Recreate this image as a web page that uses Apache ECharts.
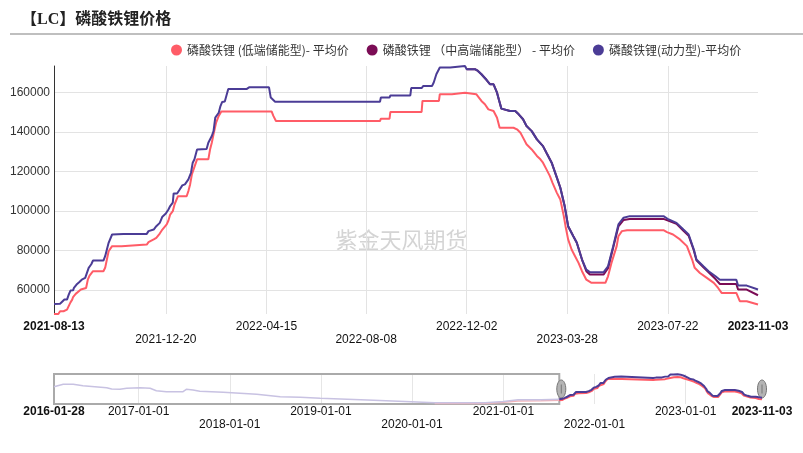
<!DOCTYPE html>
<html><head><meta charset="utf-8">
<script src="https://cdn.jsdelivr.net/npm/echarts@6/dist/echarts.min.js"></script>
<style>html,body{margin:0;padding:0;background:#fff}#c{width:803px;height:453px}</style>
</head><body><div id="c"></div>
<script>
const seriesNames = ['磷酸铁锂 (低端储能型)- 平均价', '磷酸铁锂 （中高端储能型） - 平均价', '磷酸铁锂(动力型)-平均价'];
const seriesColors = ['#ff5c67', '#7b0c55', '#4b3c96'];
const windowStart = '2021-08-13';
const windowEnd = '2023-11-03';
const fullStart = '2016-01-28';
const mainTickLabels = ['2021-08-13','2021-12-20','2022-04-15','2022-08-08','2022-12-02','2023-03-28','2023-07-22','2023-11-03'];
const mainGridDates = ['2021-12-20','2022-04-15','2022-08-08','2022-12-02','2023-03-28','2023-07-22'];
const sliderTickLabels = ['2016-01-28','2017-01-01','2018-01-01','2019-01-01','2020-01-01','2021-01-01','2022-01-01','2023-01-01','2023-11-03'];
const sliderGridDates = ['2017-01-01','2018-01-01','2019-01-01','2020-01-01','2021-01-01','2022-01-01','2023-01-01'];
const boldLabels = ['2021-08-13','2023-11-03','2016-01-28'];
const secondRowLabels = ['2021-12-20','2022-08-08','2023-03-28','2018-01-01','2020-01-01','2022-01-01'];

// 低端储能型
const redPrices = [['2021-08-13',47800],['2021-08-18',47800],['2021-08-20',49200],['2021-08-24',49200],['2021-08-25',50000],['2021-08-28',50000],['2021-09-01',53700],['2021-09-03',55100],['2021-09-04',56400],['2021-09-07',58000],['2021-09-09',58800],['2021-09-13',60200],['2021-09-15',61000],['2021-09-19',61000],['2021-09-21',65200],['2021-09-23',67300],['2021-09-25',67300],['2021-09-27',69500],['2021-10-09',69500],['2021-10-11',71200],['2021-10-13',75400],['2021-10-15',79600],['2021-10-19',82200],['2021-10-30',82200],['2021-11-01',83000],['2021-11-28',83000],['2021-11-30',84200],['2021-12-06',85600],['2021-12-09',86400],['2021-12-13',88600],['2021-12-16',90600],['2021-12-21',93200],['2021-12-23',95200],['2021-12-25',98200],['2021-12-28',99900],['2021-12-30',103300],['2022-01-03',107500],['2022-01-13',107500],['2022-01-15',110100],['2022-01-17',113500],['2022-01-19',118500],['2022-01-21',121100],['2022-01-25',126200],['2022-02-07',126200],['2022-02-09',131200],['2022-02-11',134600],['2022-02-13',138900],['2022-02-16',144800],['2022-02-19',148200],['2022-02-22',150500],['2022-04-21',150500],['2022-04-23',148200],['2022-04-26',145600],['2022-08-24',145600],['2022-08-25',146800],['2022-09-04',146800],['2022-09-05',150200],['2022-10-11',150200],['2022-10-12',155800],['2022-10-31',155800],['2022-11-01',159200],['2022-11-15',159200],['2022-11-17',160000],['2022-11-30',160000],['2022-12-02',159200],['2022-12-13',159200],['2022-12-15',158300],['2022-12-19',155800],['2022-12-23',154100],['2022-12-27',151500],['2023-01-02',150700],['2023-01-06',147300],['2023-01-09',142200],['2023-01-25',142200],['2023-01-29',141400],['2023-02-02',139700],['2023-02-05',137200],['2023-02-09',133800],['2023-02-15',131200],['2023-02-21',127900],['2023-02-25',126200],['2023-02-28',124500],['2023-03-04',121100],['2023-03-08',117700],['2023-03-11',114300],['2023-03-16',109200],['2023-03-20',105800],['2023-03-24',97400],['2023-03-26',92300],['2023-03-29',85600],['2023-04-02',80500],['2023-04-06',77100],['2023-04-10',73700],['2023-04-14',69500],['2023-04-19',65200],['2023-04-25',63600],['2023-05-11',63600],['2023-05-14',66900],['2023-05-18',73700],['2023-05-24',82200],['2023-05-26',87200],['2023-05-30',89800],['2023-06-05',90300],['2023-07-17',90300],['2023-07-21',89300],['2023-07-28',88100],['2023-08-05',85600],['2023-08-13',82200],['2023-08-19',75400],['2023-08-22',71200],['2023-08-28',68600],['2023-09-05',66100],['2023-09-13',63600],['2023-09-18',61000],['2023-09-22',58500],['2023-10-09',58500],['2023-10-11',57600],['2023-10-13',54300],['2023-10-21',54300],['2023-11-03',52600]];

// 中高端储能型
const magentaPrices = [['2022-12-02',171800],['2022-12-12',171800],['2022-12-15',171000],['2022-12-19',169300],['2022-12-25',166400],['2022-12-29',164200],['2023-01-02',164200],['2023-01-06',160000],['2023-01-08',156600],['2023-01-11',151900],['2023-01-21',150700],['2023-01-27',150700],['2023-01-31',149000],['2023-02-05',146500],['2023-02-09',143100],['2023-02-15',140500],['2023-02-21',136300],['2023-02-28',132900],['2023-03-04',129500],['2023-03-10',124500],['2023-03-16',116900],['2023-03-20',111800],['2023-03-25',102500],['2023-03-29',92300],['2023-04-04',87200],['2023-04-08',83900],['2023-04-14',75400],['2023-04-19',69500],['2023-04-23',67800],['2023-05-09',67800],['2023-05-14',71000],['2023-05-20',81500],['2023-05-26',92200],['2023-06-01',95500],['2023-06-08',96000],['2023-07-17',96000],['2023-07-23',95000],['2023-08-01',93500],['2023-08-09',90000],['2023-08-15',87500],['2023-08-21',80000],['2023-08-24',75000],['2023-09-01',71500],['2023-09-07',69000],['2023-09-15',65500],['2023-09-20',63000],['2023-10-09',63000],['2023-10-11',60200],['2023-10-21',60200],['2023-11-03',57300]];

// 动力型
const purplePrices = [['2021-08-13',52900],['2021-08-20',53000],['2021-08-22',54000],['2021-08-25',55100],['2021-08-28',55100],['2021-08-30',57600],['2021-09-01',59700],['2021-09-04',59800],['2021-09-05',61000],['2021-09-08',62700],['2021-09-11',63900],['2021-09-14',65200],['2021-09-18',66100],['2021-09-20',66900],['2021-09-22',71200],['2021-09-25',73000],['2021-09-27',74900],['2021-10-09',74900],['2021-10-11',77100],['2021-10-13',80500],['2021-10-15',83900],['2021-10-19',88100],['2021-11-01',88400],['2021-11-28',88400],['2021-11-30',89800],['2021-12-06',90600],['2021-12-09',92300],['2021-12-13',94000],['2021-12-16',97100],['2021-12-20',98700],['2021-12-23',100800],['2021-12-25',102500],['2021-12-28',104200],['2021-12-29',108900],['2022-01-02',108900],['2022-01-05',110900],['2022-01-08',113000],['2022-01-11',113500],['2022-01-15',116000],['2022-01-18',119400],['2022-01-20',124500],['2022-01-22',126200],['2022-01-25',131200],['2022-02-05',131400],['2022-02-07',134600],['2022-02-11',138000],['2022-02-13',140500],['2022-02-15',147300],['2022-02-19',149800],['2022-02-21',153200],['2022-02-23',155300],['2022-02-26',155500],['2022-03-02',161800],['2022-03-23',161800],['2022-03-26',162700],['2022-04-18',162700],['2022-04-20',157500],['2022-04-25',155400],['2022-08-24',155400],['2022-08-25',157500],['2022-09-04',157500],['2022-09-05',158600],['2022-09-28',158600],['2022-09-29',162300],['2022-10-11',162300],['2022-10-13',163400],['2022-10-23',163400],['2022-10-25',165100],['2022-10-28',169300],['2022-11-01',172700],['2022-11-13',172700],['2022-11-15',173500],['2022-11-30',173500],['2022-12-02',171800],['2022-12-12',171800],['2022-12-15',171000],['2022-12-19',169300],['2022-12-25',166400],['2022-12-29',164200],['2023-01-02',164200],['2023-01-06',160000],['2023-01-08',156600],['2023-01-11',151900],['2023-01-21',150700],['2023-01-27',150700],['2023-01-31',149000],['2023-02-05',146500],['2023-02-09',143100],['2023-02-15',140500],['2023-02-21',136300],['2023-02-28',132900],['2023-03-04',129500],['2023-03-10',124500],['2023-03-16',116900],['2023-03-20',111800],['2023-03-25',102500],['2023-03-29',92300],['2023-04-04',87200],['2023-04-08',83900],['2023-04-14',75400],['2023-04-19',70300],['2023-04-23',69000],['2023-05-09',69000],['2023-05-14',72000],['2023-05-20',82200],['2023-05-26',93200],['2023-06-01',96600],['2023-06-08',97400],['2023-07-17',97400],['2023-07-23',95700],['2023-08-01',94000],['2023-08-09',90600],['2023-08-15',88100],['2023-08-21',80500],['2023-08-24',75400],['2023-09-01',72000],['2023-09-07',69500],['2023-09-15',66900],['2023-09-20',65200],['2023-10-09',65200],['2023-10-11',62200],['2023-10-21',62200],['2023-11-03',60200]];

// earlier history (only visible in the zoom slider)
const purpleHistory = [['2016-01-28',113600],['2016-03-05',125200],['2016-04-14',125200],['2016-05-23',118500],['2016-08-26',108800],['2016-09-15',103000],['2016-10-18',101000],['2016-11-14',105900],['2017-01-07',108800],['2017-02-16',105900],['2017-03-13',94300],['2017-04-22',89500],['2017-06-28',89500],['2017-07-11',101000],['2017-08-07',97700],['2017-09-03',91400],['2017-12-06',86600],['2018-02-11',81700],['2018-04-19',76900],['2018-07-22',65300],['2018-10-10',62400],['2018-12-30',57600],['2019-07-06',49300],['2019-12-28',41100],['2020-04-01',36300],['2020-10-20',36300],['2021-01-01',42000],['2021-03-01',50000],['2021-06-01',50500]];
const redHistory = [['2020-04-01',32500],['2020-10-20',32000],['2021-01-01',38000],['2021-03-01',45000],['2021-06-01',46000]];

const legendTextWidths = [163, 190, 128];

const ts = s => +echarts.time.parse(s);
const toXY = arr => arr.map(p => [ts(p[0]), p[1]]);
const fmtDate = v => echarts.time.format(v, '{yyyy}-{MM}-{dd}', false);
function labelFmt(v) {
  const s = fmtDate(v);
  const style = boldLabels.indexOf(s) >= 0 ? 'b' : 'n';
  return (secondRowLabels.indexOf(s) >= 0 ? '\n' : '') + '{' + style + '|' + s + '}';
}
const labelRich = {
  n: {fontSize: 12, lineHeight: 13, color: '#111', fontFamily: 'Liberation Sans, Arial, sans-serif'},
  b: {fontSize: 12, lineHeight: 13, color: '#111', fontWeight: 'bold', fontFamily: 'Liberation Sans, Arial, sans-serif'}
};

const chart = echarts.init(document.getElementById('c'), null, {renderer: 'canvas'});
const lineBase = {type: 'line', showSymbol: false, symbol: 'none', animation: false};

const option = {
  animation: false,
  backgroundColor: '#fff',
  title: {
    text: '【LC】磷酸铁锂价格', left: 16, top: 7,
    textStyle: {fontSize: 16, fontWeight: 'bold', color: '#222', fontFamily: "'Liberation Serif', 'Noto Sans CJK SC', serif"}
  },
  legend: {
    data: seriesNames.map((n, i) => ({name: n, textStyle: {width: legendTextWidths[i]}})),
    left: 166, top: 39, icon: 'circle', itemWidth: 11, itemHeight: 11, itemGap: 18,
    textStyle: {fontSize: 12, color: '#333', fontFamily: "'Noto Sans CJK SC', sans-serif"}
  },
  graphic: [
    {type: 'line', shape: {x1: 10, y1: 34, x2: 803, y2: 34}, style: {stroke: '#aaaaaa', lineWidth: 1.5}, silent: true},
    {type: 'text', left: 'center', top: 229, z: 0, silent: true,
     style: {text: '紫金天风期货', fontSize: 22, fill: '#d4d4d4', fontFamily: "'Noto Sans CJK SC', sans-serif"}}
  ],
  grid: [
    {left: 54, right: 45, top: 66, bottom: 139},
    {left: 54, right: 41, top: 374, height: 30}
  ],
  xAxis: [
    {
      type: 'value', gridIndex: 0, min: 'dataMin', max: 'dataMax',
      axisLine: {show: false},
      splitLine: {show: false},
      axisTick: {show: true, inside: true, length: 248, customValues: mainGridDates.map(ts), lineStyle: {color: '#e3e3e3', width: 1}},
      axisLabel: {customValues: mainTickLabels.map(ts), formatter: labelFmt, margin: 6, lineHeight: 13, fontSize: 12, rich: labelRich}
    },
    {
      type: 'value', gridIndex: 1, min: ts(fullStart), max: ts(windowEnd),
      axisLine: {show: false},
      splitLine: {show: false},
      axisTick: {show: true, inside: true, length: 30, customValues: sliderGridDates.map(ts), lineStyle: {color: '#e6e6e6', width: 1}},
      axisLabel: {customValues: sliderTickLabels.map(ts), formatter: labelFmt, margin: 1, lineHeight: 13, fontSize: 12, rich: labelRich}
    }
  ],
  yAxis: [
    {
      type: 'value', gridIndex: 0, min: 'dataMin', max: 'dataMax', splitNumber: 6,
      axisLine: {show: true, lineStyle: {color: '#333', width: 1}},
      axisTick: {show: false},
      axisLabel: {color: '#333', fontSize: 12, margin: 4, showMinLabel: false, showMaxLabel: false,
        fontFamily: 'Liberation Sans, Arial, sans-serif', formatter: v => String(v)},
      splitLine: {show: true, showMinLine: false, showMaxLine: false, lineStyle: {color: '#e3e3e3'}}
    },
    {type: 'value', gridIndex: 1, min: 30000, max: 175000, show: false}
  ],
  dataZoom: [{
    type: 'slider', xAxisIndex: 0, filterMode: 'filter',
    startValue: ts(windowStart), endValue: ts(windowEnd),
    left: 54, right: 41, top: 374, height: 30,
    showDataShadow: false, showDetail: false, brushSelect: false,
    backgroundColor: 'rgba(0,0,0,0)', borderColor: 'rgba(0,0,0,0)', fillerColor: 'rgba(0,0,0,0)',
    moveHandleSize: 0,
    handleIcon: 'path://M5,0C2.2,0,0,4.5,0,10s2.2,10,5,10s5-4.5,5-10S7.8,0,5,0z M5,5L5,15',
    handleSize: 18,
    handleStyle: {color: '#b4b4b4', borderColor: '#777', borderWidth: 1},
    emphasis: {handleStyle: {color: '#b4b4b4', borderColor: '#777'}}
  }],
  series: [
    Object.assign({}, lineBase, {name: seriesNames[0], xAxisIndex: 0, yAxisIndex: 0, data: toXY(redHistory.concat(redPrices)),
      lineStyle: {color: seriesColors[0], width: 2}, itemStyle: {color: seriesColors[0]}, z: 2}),
    Object.assign({}, lineBase, {name: seriesNames[1], xAxisIndex: 0, yAxisIndex: 0, data: toXY(magentaPrices),
      lineStyle: {color: seriesColors[1], width: 2}, itemStyle: {color: seriesColors[1]}, z: 3}),
    Object.assign({}, lineBase, {name: seriesNames[2], xAxisIndex: 0, yAxisIndex: 0, data: toXY(purpleHistory.concat(purplePrices)),
      lineStyle: {color: seriesColors[2], width: 2}, itemStyle: {color: seriesColors[2]}, z: 4}),
    // slider overview
    Object.assign({}, lineBase, {name: 'hist-low', xAxisIndex: 1, yAxisIndex: 1, data: toXY(redHistory.concat([redPrices[0]])),
      lineStyle: {color: '#f2b3b8', width: 1.5}, z: 2}),
    Object.assign({}, lineBase, {name: 'hist-power', xAxisIndex: 1, yAxisIndex: 1, data: toXY(purpleHistory.concat([purplePrices[0]])),
      lineStyle: {color: '#c8c2e2', width: 1.5}, z: 3,
      markArea: {silent: true, itemStyle: {color: 'rgba(0,0,0,0)', borderColor: '#aaaaaa', borderWidth: 2},
        data: [[{xAxis: ts(fullStart)}, {xAxis: ts(windowStart)}]]}}),
    Object.assign({}, lineBase, {name: 'ov-low', xAxisIndex: 1, yAxisIndex: 1, data: toXY(redPrices),
      lineStyle: {color: seriesColors[0], width: 2}, z: 4}),
    Object.assign({}, lineBase, {name: 'ov-power', xAxisIndex: 1, yAxisIndex: 1, data: toXY(purplePrices),
      lineStyle: {color: seriesColors[2], width: 2}, z: 5})
  ]
};
chart.setOption(option);
</script>
</body></html>
